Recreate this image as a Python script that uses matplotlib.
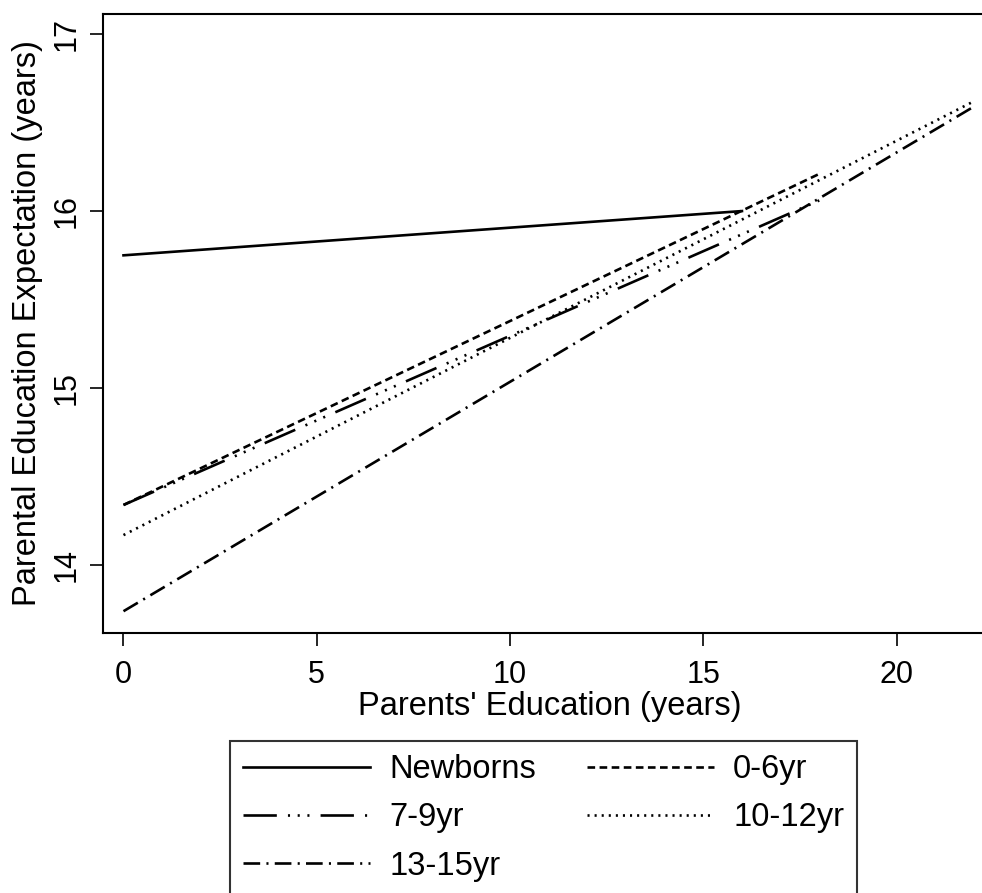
import matplotlib
matplotlib.use("Agg")
import matplotlib.pyplot as plt

plt.rcParams['font.family'] = ['Liberation Sans', 'DejaVu Sans']
plt.rcParams['lines.scale_dashes'] = False

# data (x = parents' education, y = expected years)
newborns_x = [0, 16]
newborns_y = [15.75, 16.0]
g0_6_x = [0, 18]
g0_6_y = [14.34, 16.21]
g7_9_x = [0, 18]
g7_9_y = [14.34, 16.06]
g10_12_x = [0, 22]
g10_12_y = [14.17, 16.62]
g13_15_x = [0, 22]
g13_15_y = [13.74, 16.59]

xticks = [0, 5, 10, 15, 20]
yticks = [14, 15, 16, 17]

fig = plt.figure(figsize=(9.82, 8.93), dpi=100)
ax = fig.add_axes([103 / 982, (893 - 633) / 893, 879 / 982, 619 / 893])

lw = 1.9
l1, = ax.plot(newborns_x, newborns_y, color='black', lw=lw, label='Newborns')
l2, = ax.plot(g0_6_x, g0_6_y, color='black', lw=lw, ls=(0, (5.5, 3.2)), label='0-6yr')
l3, = ax.plot(g7_9_x, g7_9_y, color='black', lw=lw,
              ls=(0, (24, 8, 1.5, 5.5, 1.5, 5.5, 1.5, 8)), label='7-9yr')
l4, = ax.plot(g10_12_x, g10_12_y, color='black', lw=lw, ls=(0, (1.5, 3.6)), label='10-12yr')
l5, = ax.plot(g13_15_x, g13_15_y, color='black', lw=lw,
              ls=(0, (12, 4.5, 1.5, 4.5)), label='13-15yr')
for ln in (l1, l2, l3, l4, l5):
    ln.set_dash_capstyle('butt')

ax.set_xlim(-0.53, 22.21)
ax.set_ylim(13.617, 17.113)
ax.set_xticks(xticks)
ax.set_yticks(yticks)
ax.spines['right'].set_visible(False)
for s in ('left', 'bottom', 'top'):
    ax.spines[s].set_linewidth(1.5)
ax.tick_params(length=9.5, width=1.2, labelsize=22)
ax.tick_params(axis='x', pad=10)
ax.tick_params(axis='y', pad=6)
plt.setp(ax.get_yticklabels(), rotation=90, va='center', ha='right')

ax.set_xlabel("Parents' Education (years)", fontsize=23.5)
ax.set_ylabel("Parental Education Expectation (years)", fontsize=23.5)
ax.xaxis.set_label_coords(0.5085, -0.093)
ax.yaxis.set_label_coords(-0.068, 0.5)

# matplotlib fills columns first, so order handles column by column
leg = fig.legend([l1, l3, l5, l2, l4], ['Newborns', '7-9yr', '13-15yr', '0-6yr', '10-12yr'],
                 ncol=2, loc='upper left', bbox_to_anchor=(230 / 982, 1 - 741 / 893),
                 fontsize=23.5, frameon=True, fancybox=False, handlelength=3.9,
                 handletextpad=0.58, columnspacing=1.56, labelspacing=0.53,
                 borderpad=0.4, borderaxespad=0)
leg.get_frame().set_edgecolor('black')
leg.get_frame().set_linewidth(1.5)

fig.savefig('out.png', dpi=100)
